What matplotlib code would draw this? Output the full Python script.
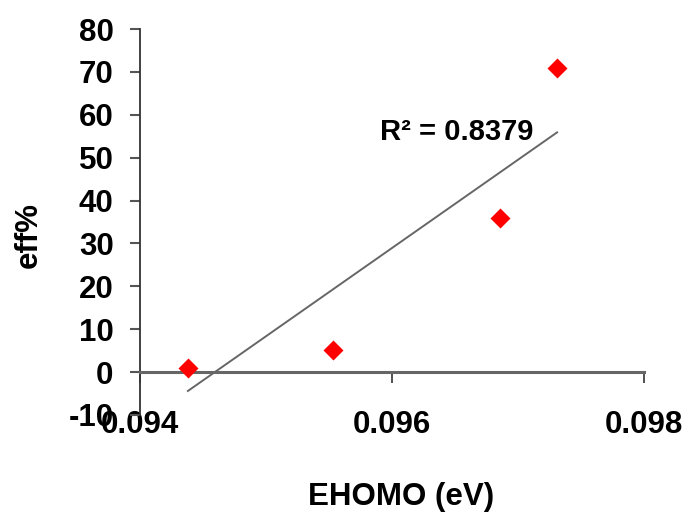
"""Scatter of efficiency vs EHOMO with a linear trend line, Excel style."""
import matplotlib

matplotlib.use("Agg")
import matplotlib.pyplot as plt  # noqa: E402

# data
ehomo = [0.09438, 0.09553, 0.09686, 0.09731]
eff = [1.0, 5.1, 36.0, 71.0]
# trend line values at the first and last x, as drawn in the picture
trend_x = [min(ehomo), max(ehomo)]
trend_y = [-4.4, 55.9]
r2_label = "R² = 0.8379"
xticks = [0.094, 0.096, 0.098]
xtick_labels = ["0.094", "0.096", "0.098"]
yticks = list(range(-10, 81, 10))

plt.rcParams["font.family"] = ["Liberation Sans", "DejaVu Sans"]
plt.rcParams["font.weight"] = "bold"
plt.rcParams["axes.unicode_minus"] = False

fig = plt.figure(figsize=(6.88, 5.19), dpi=100)
ax = fig.add_axes([0.2035, 0.2004, 0.7326, 0.7437])

ax.plot(trend_x, trend_y, color="#666666", lw=1.4, zorder=2)
ax.plot(ehomo, eff, linestyle="none", marker="D", ms=10.5,
        color="#ff0000", mec="none", zorder=3)

ax.set_xlim(0.094, 0.098)
ax.set_ylim(-10, 80)
ax.set_xticks(xticks)
ax.set_xticklabels(xtick_labels)
ax.set_yticks(yticks)

for side in ("top", "right"):
    ax.spines[side].set_visible(False)
ax.spines["bottom"].set_position(("data", 0))
ax.spines["bottom"].set_color("#666666")
ax.spines["bottom"].set_linewidth(2.2)
ax.spines["left"].set_color("#333333")
ax.spines["left"].set_linewidth(1.3)

ax.tick_params(axis="y", direction="out", length=7, width=1.5,
               color="#555555", pad=12, labelsize=22.5)
ax.tick_params(axis="x", direction="out", length=8, width=1.2,
               color="#333333", pad=19, labelsize=22.5)

ax.text(0.476, 0.733, r2_label, transform=ax.transAxes, ha="left",
        va="center", fontsize=21, fontweight="bold")

ax.set_xlabel("EHOMO (eV)", fontsize=22.5, fontweight="bold")
ax.xaxis.set_label_coords(0.518, -0.212)
ax.xaxis.label.set_va("center")
ax.set_ylabel("eff%", fontsize=22.5, fontweight="bold")
ax.yaxis.set_label_coords(-0.220, 0.466)
ax.yaxis.label.set_va("center")

fig.savefig("out.png", dpi=100)
